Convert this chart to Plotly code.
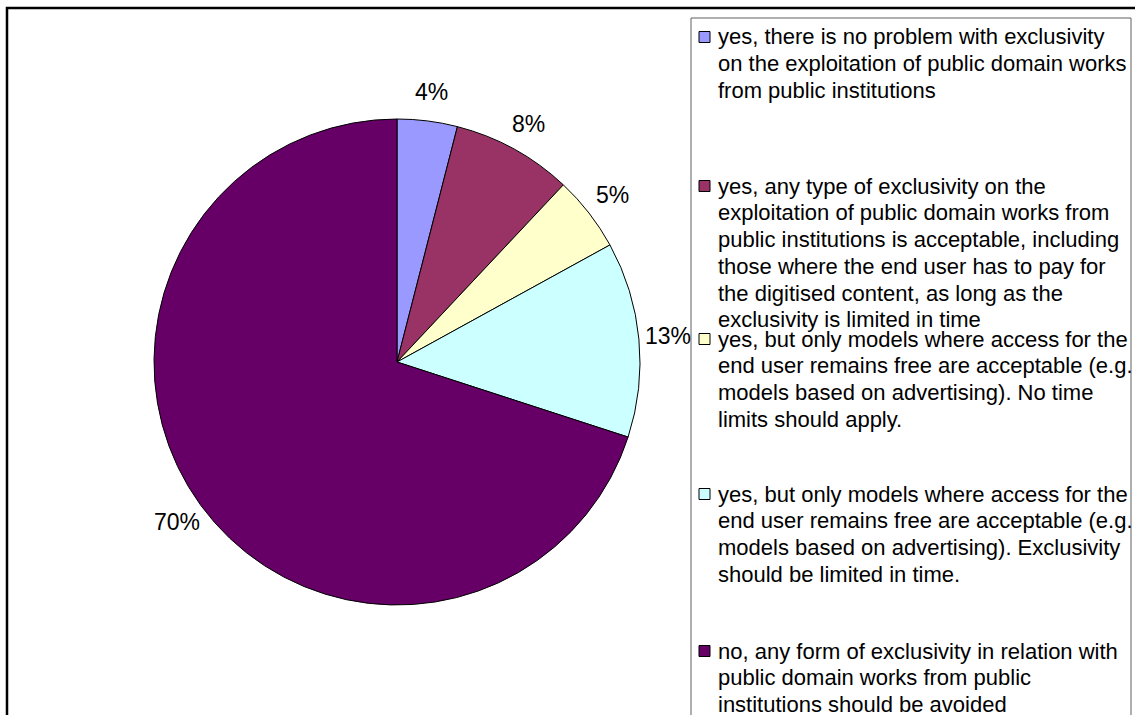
import math
import plotly.graph_objects as go

# Survey answers (legend text, wrapped as printed) and their shares
categories = [
    "yes, there is no problem with exclusivity<br>on the exploitation of public domain works<br>from public institutions",
    "yes, any type of exclusivity on the<br>exploitation of public domain works from<br>public institutions is acceptable, including<br>those where the end user has to pay for<br>the digitised content, as long as the<br>exclusivity is limited in time",
    "yes, but only models where access for the<br>end user remains free are acceptable (e.g.<br>models based on advertising). No time<br>limits should apply.",
    "yes, but only models where access for the<br>end user remains free are acceptable (e.g.<br>models based on advertising). Exclusivity<br>should be limited in time.",
    "no, any form of exclusivity in relation with<br>public domain works from public<br>institutions should be avoided",
]
shares = [4, 8, 5, 13, 70]
colors = ["#9999FF", "#993366", "#FFFFCC", "#CCFFFF", "#660066"]

W, H = 1135, 715
FONT = "Liberation Sans, Arial, sans-serif"


def fx(x):
    return x / W


def fy(y):
    return 1 - y / H


# pie geometry in pixels
cx, cy, R = 397, 362, 243

fig = go.Figure()
fig.add_trace(go.Pie(
    values=shares,
    labels=[c.replace("<br>", " ") for c in categories],
    sort=False,
    direction="clockwise",
    rotation=0,
    marker=dict(colors=colors, line=dict(color="black", width=1)),
    textinfo="none",
    showlegend=False,
    domain=dict(x=[fx(cx - R), fx(cx + R)], y=[fy(cy + R), fy(cy - R)]),
))

annotations = []
shapes = []

# percentage labels outside each slice, at the slice's mid angle
total = sum(shares)
cum = 0
label_r = R * 1.12
for v in shares:
    mid = (cum + v / 2) / total
    cum += v
    th = 2 * math.pi * mid
    lx = cx + label_r * math.sin(th)
    ly = cy - label_r * math.cos(th)
    annotations.append(dict(
        x=fx(lx), y=fy(ly), xref="paper", yref="paper",
        text=f"{round(v / total * 100)}%", showarrow=False,
        xanchor="center", yanchor="middle",
        font=dict(family=FONT, size=23, color="black"),
    ))

# legend: box, colour squares and wrapped text
shapes.append(dict(type="rect", xref="paper", yref="paper",
                   x0=fx(691), x1=fx(1131), y0=fy(740), y1=fy(18),
                   line=dict(color="#606060", width=1), fillcolor="rgba(0,0,0,0)"))
item_tops = [37, 186, 339, 494, 651]
line_step = 26.8
for cat, col, top in zip(categories, colors, item_tops):
    shapes.append(dict(type="rect", xref="paper", yref="paper",
                       x0=fx(699), x1=fx(710), y0=fy(top + 5.5), y1=fy(top - 5.5),
                       line=dict(color="black", width=1), fillcolor=col))
    for k, line in enumerate(cat.split("<br>")):
        annotations.append(dict(
            x=fx(716), y=fy(top + k * line_step), xref="paper", yref="paper",
            text=line, showarrow=False, xanchor="left", yanchor="middle",
            font=dict(family=FONT, size=22, color="black"),
        ))

# chart frame (right and bottom edges run past the page)
shapes.append(dict(type="rect", xref="paper", yref="paper",
                   x0=fx(7), x1=fx(1145), y0=fy(730), y1=fy(8),
                   line=dict(color="black", width=2.5), fillcolor="rgba(0,0,0,0)"))

fig.update_layout(
    width=W, height=H,
    margin=dict(l=0, r=0, t=0, b=0),
    paper_bgcolor="white", plot_bgcolor="white",
    annotations=annotations, shapes=shapes,
)

fig.write_html("out.html")
